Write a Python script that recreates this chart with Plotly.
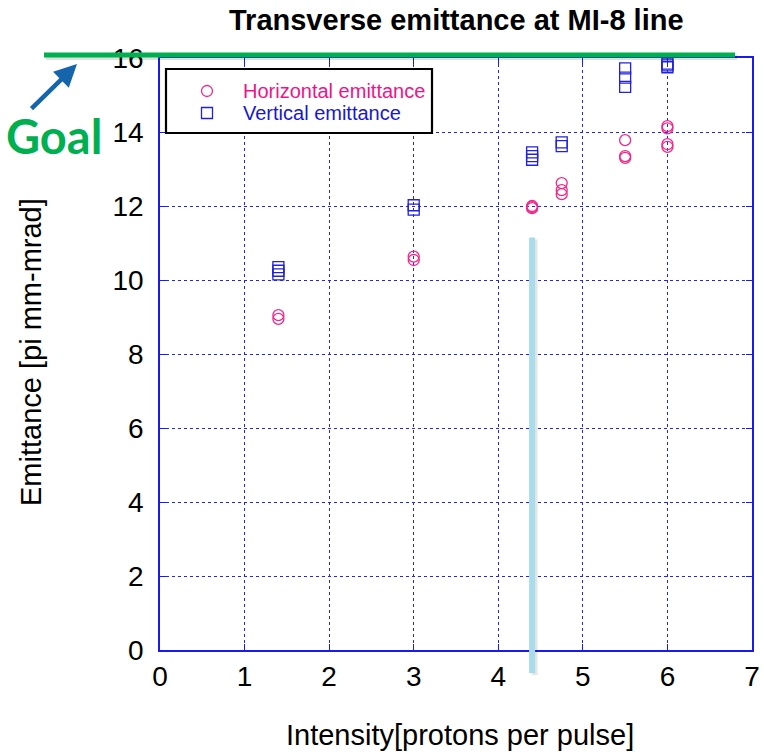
import plotly.graph_objects as go

# ---- data ----
h_x = [1.4, 1.4, 3, 3, 4.4, 4.4, 4.4, 4.75, 4.75, 4.75, 5.5, 5.5, 5.5, 6, 6, 6, 6]
h_y = [9.05, 8.95, 10.63, 10.54, 12.0, 11.97, 11.94, 12.62, 12.43, 12.32,
       13.78, 13.35, 13.3, 14.16, 14.1, 13.67, 13.6]
v_x = [1.4, 1.4, 1.4, 3, 3, 4.4, 4.4, 4.4, 4.75, 4.75, 5.5, 5.5, 5.5, 6, 6, 6]
v_y = [10.35, 10.25, 10.15, 12.02, 11.9, 13.45, 13.35, 13.25, 13.72, 13.62,
       15.72, 15.47, 15.22, 15.85, 15.8, 15.75]

series_names = ["Horizontal emittance", "Vertical emittance"]

x_ticks = [0, 1, 2, 3, 4, 5, 6, 7]
y_ticks = [0, 2, 4, 6, 8, 10, 12, 14, 16]
x_range = [0, 7]
y_range = [0, 16]

goal_value = 16.08         # goal line level (slightly above frame)
marker_x = 4.4             # light-blue vertical marker
marker_top = 11.15
marker_bottom = -0.62

PINK = "#f0288a"
BLUE = "#2222dd"
PINK_TXT = "#ee1487"
BLUE_TXT = "#1818d0"

W, H = 764, 754
ML, MR, MT, MB = 160, 12, 58, 104
PW = W - ML - MR
PH = H - MT - MB


def px_x(p):  # pixel -> paper x
    return (p - ML) / PW


def px_y(p):  # pixel -> paper y
    return (H - MB - p) / PH


def dy(v):  # data y -> paper y
    return (v - y_range[0]) / (y_range[1] - y_range[0])


fig = go.Figure()
fig.add_trace(go.Scatter(
    x=h_x, y=h_y, mode="markers", name=series_names[0],
    marker=dict(symbol="circle-open", size=11, color=PINK, line=dict(width=1.3, color=PINK)),
))
fig.add_trace(go.Scatter(
    x=v_x, y=v_y, mode="markers", name=series_names[1],
    marker=dict(symbol="square-open", size=11, color=BLUE, line=dict(width=1.3, color=BLUE)),
))

axis_common = dict(
    showline=True, linecolor="#1a1aee", linewidth=1.5, mirror="allticks",
    showgrid=True, gridcolor="#2222ff", gridwidth=1, griddash="dot",
    ticks="inside", ticklen=6, tickcolor="#1a1aee", tickwidth=1,
    zeroline=False, automargin=False,
    tickfont=dict(family="Liberation Sans Narrow, Arial Narrow, Liberation Sans", size=28, color="black"),
)

fig.update_layout(
    width=W, height=H,
    margin=dict(l=ML, r=MR, t=MT, b=MB, autoexpand=False),
    paper_bgcolor="white", plot_bgcolor="white",
    showlegend=False,
    xaxis=dict(range=x_range, tickvals=x_ticks, ticklabelstandoff=1, **axis_common),
    yaxis=dict(range=y_range, tickvals=y_ticks, ticklabelstandoff=9, **axis_common),
)

# ---- manual legend (box, symbols, texts) ----
fig.add_shape(type="rect", xref="paper", yref="paper",
              x0=px_x(166), x1=px_x(432), y0=px_y(133), y1=px_y(69),
              line=dict(color="black", width=2.2), fillcolor="white", layer="above")
fig.add_shape(type="circle", xref="paper", yref="paper", xsizemode="pixel", ysizemode="pixel",
              xanchor=px_x(207), yanchor=px_y(91), x0=-5.5, x1=5.5, y0=-5.5, y1=5.5,
              line=dict(color=PINK, width=1.3), layer="above")
fig.add_shape(type="rect", xref="paper", yref="paper", xsizemode="pixel", ysizemode="pixel",
              xanchor=px_x(207), yanchor=px_y(113), x0=-5.5, x1=5.5, y0=-5.5, y1=5.5,
              line=dict(color=BLUE, width=1.3), layer="above")
fig.add_annotation(xref="paper", yref="paper", x=px_x(241), y=px_y(91), xanchor="left", yanchor="middle",
                   text=series_names[0], showarrow=False,
                   font=dict(family="Liberation Sans, Arial", size=20, color=PINK_TXT))
fig.add_annotation(xref="paper", yref="paper", x=px_x(241), y=px_y(113), xanchor="left", yanchor="middle",
                   text=series_names[1], showarrow=False,
                   font=dict(family="Liberation Sans, Arial", size=20, color=BLUE_TXT))

# goal line with faint shadow
fig.add_shape(type="line", xref="paper", yref="paper",
              x0=px_x(46), x1=px_x(737), y0=dy(goal_value) - 2.5 / PH, y1=dy(goal_value) - 2.5 / PH,
              line=dict(color="rgba(0,0,0,0.12)", width=5), layer="above")
fig.add_shape(type="line", xref="paper", yref="paper",
              x0=px_x(44), x1=px_x(735), y0=dy(goal_value), y1=dy(goal_value),
              line=dict(color="#00b050", width=5), layer="above")

# light-blue vertical marker with faint shadow
fig.add_shape(type="line", xref="x", yref="paper",
              x0=marker_x + 0.03, x1=marker_x + 0.03, y0=dy(marker_bottom) - 2 / PH, y1=dy(marker_top) - 2 / PH,
              line=dict(color="rgba(0,0,0,0.10)", width=6), layer="above")
fig.add_shape(type="line", xref="x", yref="paper",
              x0=marker_x, x1=marker_x, y0=dy(marker_bottom), y1=dy(marker_top),
              line=dict(color="#a8dcea", width=6), layer="above")

# arrow pointing to goal line
fig.add_annotation(xref="paper", yref="paper", x=px_x(77), y=px_y(64), ax=-47, ay=46,
                   text="", showarrow=True, arrowhead=2, arrowsize=1.0, arrowwidth=4.5,
                   arrowcolor="#1565ad")

# Goal text
fig.add_annotation(xref="paper", yref="paper", x=px_x(4), y=px_y(136), xanchor="left", yanchor="middle",
                   text="<b>Goal</b>", showarrow=False,
                   font=dict(family="Lato, Open Sans", size=47, color="#00b050"))

# title
fig.add_annotation(xref="paper", yref="paper", x=px_x(456), y=px_y(20), xanchor="center", yanchor="middle",
                   text="<b>Transverse emittance at MI-8 line</b>", showarrow=False,
                   font=dict(family="Liberation Sans, Arial", size=29, color="black"))

# axis titles
fig.add_annotation(xref="paper", yref="paper", x=px_x(460), y=px_y(735), xanchor="center", yanchor="middle",
                   text="Intensity[protons per pulse]", showarrow=False,
                   font=dict(family="Liberation Sans, Arial", size=29, color="black"))
fig.add_annotation(xref="paper", yref="paper", x=px_x(31), y=px_y(352), xanchor="center", yanchor="middle",
                   text="Emittance [pi mm-mrad]", showarrow=False, textangle=-90,
                   font=dict(family="Liberation Sans, Arial", size=29, color="black"))

fig.write_html("out.html")
